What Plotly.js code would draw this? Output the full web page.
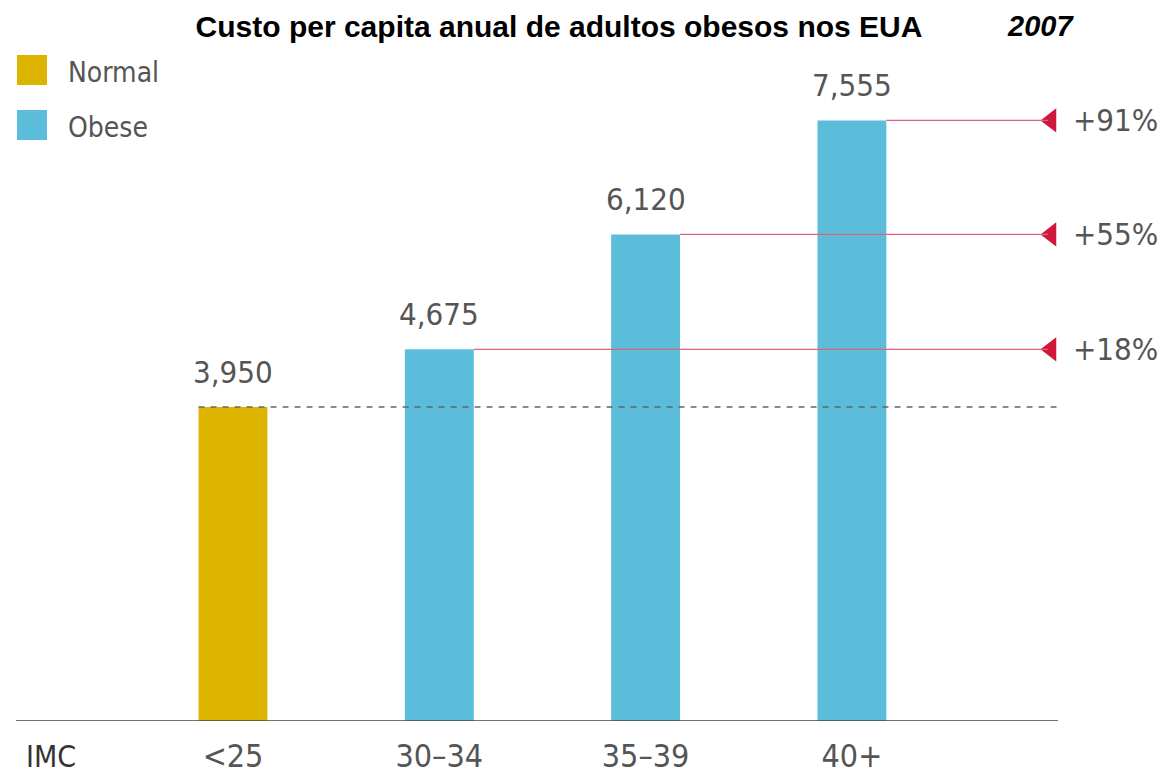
<!DOCTYPE html>
<html>
<head>
<meta charset="utf-8">
<script src="https://cdn.plot.ly/plotly-3.0.1.min.js"></script>
<style>
  html, body { margin: 0; padding: 0; background: #fff; }
  #chart { width: 1163px; height: 776px; }
</style>
</head>
<body>
<div id="chart"></div>
<script>
// data
let categories = ['<25', '30–34', '35–39', '40+'];
let normal_cats = ['<25'];
let normal_costs = [3950];
let obese_cats = ['30–34', '35–39', '40+'];
let obese_costs = [4675, 6120, 7555];
let increase_labels = ['+18%', '+55%', '+91%'];

const W = 1163;
const H = 776;
const M = {l: 0, r: 0, t: 55, b: 55};
const narrow = '"DejaVu Sans Condensed", "Liberation Sans Narrow", sans-serif';
const bold = '"Liberation Sans", Arial, sans-serif';
const gold = '#DCB400';
const blue = '#5BBDD9';
const grey = '#555555';
const barWidth = 0.334;
const xRange = [-233 / 206.3, (W - 233) / 206.3];

// pixel -> paper helpers
function fx(px) { return px / W; }
function fy(py) { return (H - M.b - py) / (H - M.t - M.b); }

function catIndex(c) { return categories.indexOf(c); }

function drawChart() {
    let normal = {
        type: 'bar',
        x: normal_cats,
        y: normal_costs,
        width: barWidth,
        marker: {color: gold},
        name: 'Normal',
        hoverinfo: 'none'
    };

    let obese = {
        type: 'bar',
        x: obese_cats,
        y: obese_costs,
        width: barWidth,
        marker: {color: blue},
        name: 'Obese',
        hoverinfo: 'none'
    };

    // arrow heads sit on a hidden linear axis so they don't add a category
    let markers = {
        type: 'scatter',
        mode: 'markers',
        xaxis: 'x2',
        x: obese_cats.map(() => 3.965),
        y: obese_costs,
        marker: {symbol: 'triangle-left', size: 21, color: '#D0183C'},
        hoverinfo: 'none'
    };

    let shapes = [];
    // baseline
    shapes.push({type: 'line', xref: 'paper', yref: 'y', x0: fx(16), x1: fx(1058), y0: 0, y1: 0,
        line: {color: '#444', width: 1.5}});
    // dashed reference at the normal cost
    shapes.push({type: 'line', xref: 'x', yref: 'y',
        x0: catIndex(normal_cats[0]) - barWidth / 2, x1: 4.0,
        y0: normal_costs[0], y1: normal_costs[0],
        line: {color: '#666', width: 1.5, dash: '6px,6px'}});
    // red lines from bar tops to the arrows
    for (let i = 0; i < obese_cats.length; i++) {
        shapes.push({type: 'line', xref: 'x', yref: 'y',
            x0: catIndex(obese_cats[i]) + barWidth / 2, x1: 3.95,
            y0: obese_costs[i], y1: obese_costs[i],
            line: {color: '#DE6478', width: 1.3}});
    }
    // legend squares
    shapes.push({type: 'rect', xref: 'paper', yref: 'paper', x0: fx(17), x1: fx(47), y0: fy(85), y1: fy(55),
        fillcolor: gold, line: {width: 0}});
    shapes.push({type: 'rect', xref: 'paper', yref: 'paper', x0: fx(17), x1: fx(47), y0: fy(140), y1: fy(110),
        fillcolor: blue, line: {width: 0}});

    let annotations = [];
    let allCats = normal_cats.concat(obese_cats);
    let allCosts = normal_costs.concat(obese_costs);
    for (let i = 0; i < allCats.length; i++) {
        annotations.push({x: catIndex(allCats[i]), y: allCosts[i], xref: 'x', yref: 'y',
            text: allCosts[i].toLocaleString('en-US'), showarrow: false,
            xanchor: 'center', yanchor: 'middle', yshift: 35,
            font: {family: narrow, size: 31, color: grey}});
    }
    for (let i = 0; i < obese_cats.length; i++) {
        annotations.push({x: fx(1071), y: obese_costs[i], xref: 'paper', yref: 'y',
            text: increase_labels[i], showarrow: false,
            xanchor: 'left', yanchor: 'middle',
            font: {family: narrow, size: 31, color: grey}});
    }
    annotations.push({x: fx(66), y: fy(72), xref: 'paper', yref: 'paper', text: 'Normal', showarrow: false,
        xanchor: 'left', yanchor: 'middle', font: {family: narrow, size: 28, color: grey}});
    annotations.push({x: fx(66), y: fy(127), xref: 'paper', yref: 'paper', text: 'Obese', showarrow: false,
        xanchor: 'left', yanchor: 'middle', font: {family: narrow, size: 28, color: grey}});
    annotations.push({x: fx(24), y: fy(757), xref: 'paper', yref: 'paper', text: 'IMC', showarrow: false,
        xanchor: 'left', yanchor: 'middle', font: {family: narrow, size: 30, color: '#333'}});
    annotations.push({x: fx(1040), y: fy(26), xref: 'paper', yref: 'paper', text: '<b><i>2007</i></b>',
        showarrow: false, xanchor: 'center', yanchor: 'middle',
        font: {family: bold, size: 29, color: '#000'}});

    let layout = {
        width: W,
        height: H,
        margin: M,
        paper_bgcolor: '#fff',
        plot_bgcolor: '#fff',
        showlegend: false,
        barmode: 'overlay',
        title: {
            text: '<b>Custo per capita anual de adultos obesos nos EUA</b>',
            x: fx(559), xanchor: 'center', xref: 'container',
            y: 1 - 26 / H, yanchor: 'middle', yref: 'container',
            font: {family: bold, size: 30, color: '#000'}
        },
        xaxis: {
            type: 'category',
            categoryorder: 'array',
            categoryarray: categories,
            range: xRange,
            showgrid: false, zeroline: false, showline: false, ticks: '',
            ticklabelstandoff: 13,
            tickfont: {family: narrow, size: 32, color: grey},
            fixedrange: true
        },
        xaxis2: {
            type: 'linear',
            overlaying: 'x',
            range: xRange,
            visible: false,
            fixedrange: true
        },
        yaxis: {
            range: [0, 666 / 0.0795],
            showgrid: false, zeroline: false, showline: false,
            showticklabels: false, ticks: '',
            fixedrange: true
        },
        shapes: shapes,
        annotations: annotations
    };

    Plotly.newPlot('chart', [normal, obese, markers], layout, {displayModeBar: false, staticPlot: true});
}

drawChart();
</script>
</body>
</html>
